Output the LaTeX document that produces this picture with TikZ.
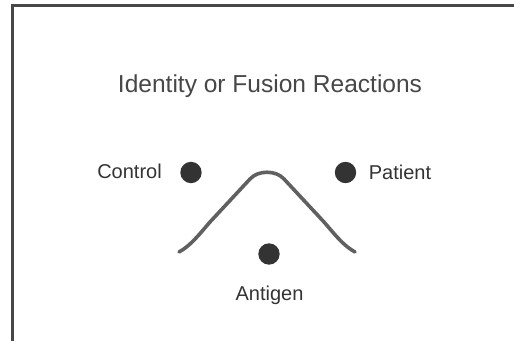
\documentclass[tikz,border=0pt]{standalone}
\usepackage{fontspec}
\setmainfont{Liberation Sans}
\definecolor{inkc}{HTML}{333333}
\definecolor{framec}{HTML}{484848}
\definecolor{curvec}{HTML}{606060}
\begin{document}
\begin{tikzpicture}[x=0.75pt,y=-0.75pt,
  lbl/.style={text=inkc,inner sep=0pt,anchor=base,font=\fontsize{15}{18}\selectfont},
  ttl/.style={text=inkc!90,inner sep=0pt,anchor=base,font=\fontsize{18.4}{22}\selectfont},
  dotc/.style={circle,fill=inkc,inner sep=0pt,minimum size=16pt}]
\useasboundingbox (0,0) rectangle (514,341);
\fill[white] (0,0) rectangle (514,341);
\draw[framec,line width=2.25pt,line join=miter] (12,341) -- (12,6) -- (514,6);
\node[ttl] (title) at (270,93) {Identity or Fusion Reactions};
\node[dotc] (cdot) at (191,172.5) {};
\node[dotc] (pdot) at (345.5,172.5) {};
\node[dotc] (adot) at (269,254) {};
\node[lbl] (control) at (129.5,179) {Control};
\node[lbl] (patient) at (400,179.5) {Patient};
\node[lbl] (antigen) at (269.5,301) {Antigen};
\draw[curvec,line width=2.7pt,line cap=round,line join=round]
  (179,252) .. controls (190,246) and (198,236) .. (210,222)
  -- (250,179)
  .. controls (258,170) and (276,170) .. (284,179)
  -- (324,222)
  .. controls (336,236) and (344,246) .. (355,252);
\end{tikzpicture}
\end{document}
